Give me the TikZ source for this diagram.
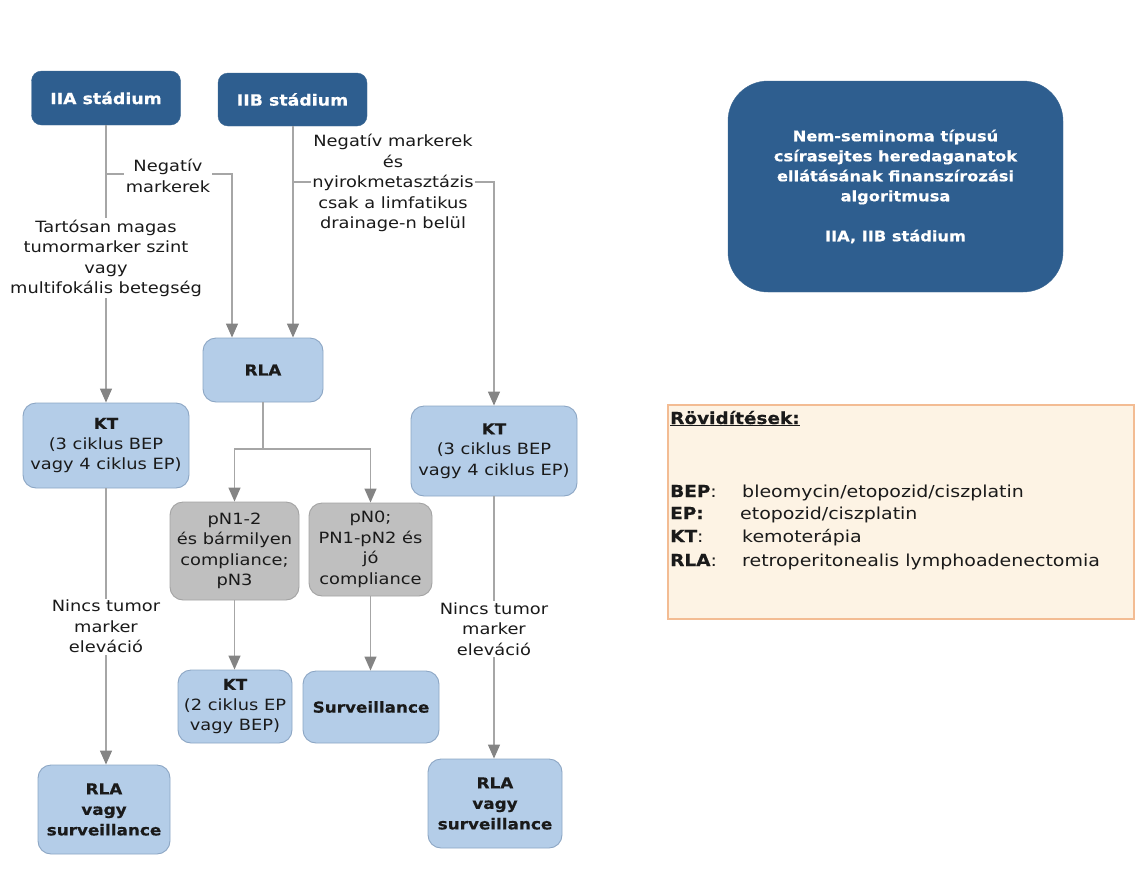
\documentclass[tikz,border=0pt]{standalone}
\usepackage{fontspec}
\setmainfont{DejaVu Sans}[FakeStretch=1.15, BoldFeatures={FakeStretch=1.12, FakeBold=0.5}]
\usetikzlibrary{arrows.meta}
\definecolor{dblue}{HTML}{2E5E8F}
\definecolor{dblueb}{HTML}{3D6892}
\definecolor{lbf}{HTML}{B4CDE8}
\definecolor{lbb}{HTML}{8CA6C4}
\definecolor{grf}{HTML}{BFBFBF}
\definecolor{grb}{HTML}{A3A3A3}
\definecolor{lineg}{HTML}{A6A6A6}
\definecolor{arrg}{HTML}{848484}
\definecolor{legf}{HTML}{FDF3E4}
\definecolor{legb}{HTML}{F3BC93}
\definecolor{txt}{HTML}{1A1A1A}
\newcommand\bx[1]{{\fontsize{15}{21}\selectfont\bfseries #1}}
\begin{document}
\begin{tikzpicture}[x=1pt,y=-1pt,
  dark/.style={draw=dblueb, fill=dblue, text=white, rounded corners=10pt,
    font=\fontsize{15.5}{20}\selectfont\bfseries, align=center, inner sep=0pt},
  lb/.style={draw=lbb, fill=lbf, line width=0.9pt, rounded corners=13pt, align=center,
    inner sep=0pt, text=txt, font=\fontsize{15.5}{20.5}\selectfont},
  gr/.style={draw=grb, fill=grf, line width=0.9pt, rounded corners=13pt, align=center,
    inner sep=0pt, text=txt, font=\fontsize{15.5}{20.5}\selectfont},
  lbl/.style={fill=white, align=center, inner sep=1.5pt, text=txt, font=\fontsize{15.5}{20.5}\selectfont},
  conn/.style={draw=lineg, line width=1.4pt},
  arr/.style={conn, -{Triangle[width=12pt,length=14pt,color=arrg]}},
  legt/.style={anchor=base west, inner sep=0pt, text=txt, font=\fontsize{16.5}{20}\selectfont}
]
\useasboundingbox (0,0) rectangle (1144,876);

% nodes
\node[dark, minimum width=149pt, minimum height=54pt] (iia) at (106,98) {IIA stádium};
\node[dark, minimum width=149pt, minimum height=53pt] (iib) at (292.5,99.5) {IIB stádium};
\node[dark, rounded corners=40pt, minimum width=335pt, minimum height=211pt,
  font=\fontsize{14.5}{20}\selectfont\bfseries] (title) at (895.5,186.5)
  {Nem-seminoma típusú\\csírasejtes heredaganatok\\ellátásának finanszírozási\\algoritmusa\\[20pt]IIA, IIB stádium};

\node[lb, minimum width=120pt, minimum height=64pt] (rla) at (263,370) {\bx{RLA}};
\node[lb, minimum width=166pt, minimum height=85pt] (ktl) at (106,445.5)
  {\bx{KT}\\(3 ciklus BEP\\vagy 4 ciklus EP)};
\node[lb, minimum width=166pt, minimum height=90pt] (ktr) at (494,451)
  {\bx{KT}\\(3 ciklus BEP\\vagy 4 ciklus EP)};
\node[gr, minimum width=129pt, minimum height=98pt] (pn12) at (234.5,551)
  {pN1-2\\és bármilyen\\compliance;\\pN3};
\node[gr, minimum width=123pt, minimum height=93pt] (pn0) at (370.5,549.5)
  {pN0;\\PN1-pN2 és\\jó\\compliance};
\node[lb, minimum width=114pt, minimum height=73pt] (kt2) at (235,706.5)
  {\bx{KT}\\(2 ciklus EP\\vagy BEP)};
\node[lb, minimum width=136pt, minimum height=72pt] (surv) at (371,707) {\bx{Surveillance}};
\node[lb, minimum width=132pt, minimum height=89pt] (rlal) at (104,809.5)
  {\bx{RLA}\\\bx{vagy}\\\bx{surveillance}};
\node[lb, minimum width=134pt, minimum height=89pt] (rlar) at (495,803.5)
  {\bx{RLA}\\\bx{vagy}\\\bx{surveillance}};

% connectors
\coordinate (ja) at (106,174);
\coordinate (jb) at (293,182);
\coordinate (jr) at (263,449);

\draw[arr] (iia.south) -- (iia.south |- ktl.north)
  node[lbl, pos=0.48] {Tartósan magas\\tumormarker szint\\vagy\\multifokális betegség};
\draw[arr] (ja) -| ([xshift=-31pt]rla.north);
\node[lbl] at (168,176) {Negatív\\markerek};
\draw[arr] (iib.south -| jb) -- (jb |- rla.north);
\draw[arr] (jb) -| (ktr.north);
\node[lbl] at (393,183) {Negatív markerek\\és\\nyirokmetasztázis\\csak a limfatikus\\drainage-n belül};

\draw[conn] (rla.south) -- (jr);
\draw[arr] (jr) -| (pn12.north);
\draw[arr] (jr) -| (pn0.north);
\draw[arr] (pn12.south) -- (pn12.south |- kt2.north);
\draw[arr] (pn0.south) -- (pn0.south |- surv.north);

\draw[arr] (ktl.south) -- (ktl.south |- rlal.north)
  node[lbl, pos=0.50] {Nincs tumor\\marker\\eleváció};
\draw[arr] (ktr.south) -- (ktr.south |- rlar.north)
  node[lbl, pos=0.505] {Nincs tumor\\marker\\eleváció};

% legend
\node[draw=legb, fill=legf, line width=1.2pt, minimum width=466pt, minimum height=214pt,
  inner sep=0pt] (leg) at (901,512) {};
\node[legt] (lh) at (670,424) {\bfseries\underline{Rövidítések:}};
\node[legt] (l1) at (670,497) {\bfseries BEP\mdseries:};
\node[legt] (l2) at (670,519) {\bfseries EP:};
\node[legt] (l3) at (670,542) {\bfseries KT\mdseries:};
\node[legt] (l4) at (670,566) {\bfseries RLA\mdseries:};
\node[legt] (v1) at (742,497) {bleomycin/etopozid/ciszplatin};
\node[legt] (v2) at (740,519) {etopozid/ciszplatin};
\node[legt] (v3) at (742,542) {kemoterápia};
\node[legt] (v4) at (742,566) {retroperitonealis lymphoadenectomia};
\end{tikzpicture}
\end{document}
